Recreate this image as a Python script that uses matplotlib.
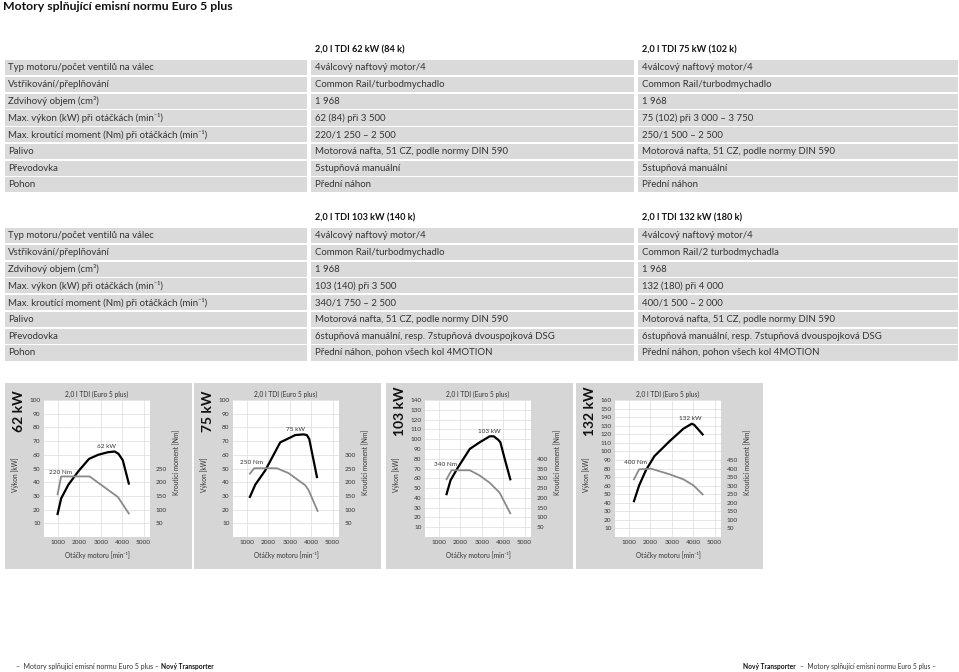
import matplotlib
matplotlib.use("Agg")
import matplotlib.pyplot as plt
from matplotlib.patches import Rectangle

plt.rcParams["font.family"] = ["Lato", "DejaVu Sans"]

W, H = 959, 672

# ---------------- table data ----------------
row_labels = [
    "Typ motoru/počet ventilů na válec",
    "Vstřikování/přeplňování",
    "Zdvihový objem (cm³)",
    "Max. výkon (kW) při otáčkách (min⁻¹)",
    "Max. kroutící moment (Nm) při otáčkách (min⁻¹)",
    "Palivo",
    "Převodovka",
    "Pohon",
]

table1_heads = ["2,0 l TDI 62 kW (84 k)", "2,0 l TDI 75 kW (102 k)"]
table1_col1 = ["4válcový naftový motor/4", "Common Rail/turbodmychadlo", "1 968",
               "62 (84) při 3 500", "220/1 250 – 2 500",
               "Motorová nafta, 51 CZ, podle normy DIN 590", "5stupňová manuální",
               "Přední náhon"]
table1_col2 = ["4válcový naftový motor/4", "Common Rail/turbodmychadlo", "1 968",
               "75 (102) při 3 000 – 3 750", "250/1 500 – 2 500",
               "Motorová nafta, 51 CZ, podle normy DIN 590", "5stupňová manuální",
               "Přední náhon"]

table2_heads = ["2,0 l TDI 103 kW (140 k)", "2,0 l TDI 132 kW (180 k)"]
table2_col1 = ["4válcový naftový motor/4", "Common Rail/turbodmychadlo", "1 968",
               "103 (140) při 3 500", "340/1 750 – 2 500",
               "Motorová nafta, 51 CZ, podle normy DIN 590",
               "6stupňová manuální, resp. 7stupňová dvouspojková DSG",
               "Přední náhon, pohon všech kol 4MOTION"]
table2_col2 = ["4válcový naftový motor/4", "Common Rail/2 turbodmychadla", "1 968",
               "132 (180) při 4 000", "400/1 500 – 2 000",
               "Motorová nafta, 51 CZ, podle normy DIN 590",
               "6stupňová manuální, resp. 7stupňová dvouspojková DSG",
               "Přední náhon, pohon všech kol 4MOTION"]

# ---------------- chart data ----------------
engine_names = ["62 kW", "75 kW", "103 kW", "132 kW"]
kw_max = [100, 100, 140, 160]
nm_ticks = [[50, 100, 150, 200, 250],
            [50, 100, 150, 200, 250, 300],
            [50, 100, 150, 200, 250, 300, 350, 400],
            [50, 100, 150, 200, 250, 300, 350, 400, 450]]

power_rpm = [
    [985, 1150, 1490, 1950, 2450, 2880, 3340, 3650, 3830, 4030, 4310],
    [1140, 1390, 1856, 2556, 2945, 3257, 3646, 3800, 3910, 4270],
    [1357, 1543, 1900, 2442, 2907, 3372, 3560, 3760, 3870, 4070, 4333],
    [1238, 1476, 1794, 2190, 2905, 3540, 3937, 4048, 4444],
]
power_kw = [
    [16.8, 28.1, 38.2, 47.9, 57.0, 60.0, 61.9, 62.4, 60.7, 56.0, 39.0],
    [29.3, 38.2, 48.6, 69.1, 72.0, 74.4, 74.9, 74.4, 71.5, 43.8],
    [43.8, 58.0, 71.5, 90.0, 96.8, 102.9, 102.9, 99.5, 96.8, 80.0, 59.0],
    [41.9, 60.2, 78.0, 94.4, 112.0, 126.4, 132.3, 131.0, 119.8],
]
torque_rpm = [
    [985, 1150, 2480, 3800, 4310],
    [1140, 1340, 2400, 2945, 3720, 3880, 4300],
    [1357, 1590, 2442, 2907, 3372, 3837, 4333],
    [1238, 1476, 2032, 2905, 3540, 4016, 4444],
]
torque_nm = [
    [156, 221, 221, 146, 86],
    [231, 251, 251, 233, 189, 171, 95],
    [295, 341, 341, 314, 277, 226, 121],
    [337, 395, 399, 366, 337, 301, 249],
]
power_label_pos = [(3290, 66), (3257, 78.8), (3341, 108), (3889, 138.6)]
torque_label = ["220 Nm", "250 Nm", "340 Nm", "400 Nm"]
torque_label_pos = [(1140, 235), (1233, 271), (1326, 369), (1317, 433)]
rpm_ticks = [1000, 2000, 3000, 4000, 5000]


def fx(x):
    return x / W


def fy(y):
    return 1 - y / H


fig = plt.figure(figsize=(W / 100, H / 100), dpi=100)
fig.patch.set_facecolor("white")

TXT = "#333333"
CELL = "#dadada"

fig.text(fx(3), fy(7), "Motory splňující emisní normu Euro 5 plus", fontsize=8.8,
         fontweight="bold", va="center", ha="left", color="#111111")


def draw_table(top, heads, col1, col2):
    row_h = 16.75
    cols = [(5, 307, 8), (311, 634, 315), (638, 958, 642)]
    fig.text(fx(cols[1][2]), fy(top - 10), heads[0], fontsize=6.6, fontweight="bold",
             va="center", ha="left", color="#111111")
    fig.text(fx(cols[2][2]), fy(top - 10), heads[1], fontsize=6.6, fontweight="bold",
             va="center", ha="left", color="#111111")
    for i, vals in enumerate(zip(row_labels, col1, col2)):
        y0 = top + i * row_h
        for (x0, x1, tx), val in zip(cols, vals):
            fig.patches.append(Rectangle((fx(x0), fy(y0 + row_h - 1.5)), (x1 - x0) / W,
                                         (row_h - 1.5) / H, transform=fig.transFigure,
                                         facecolor=CELL, edgecolor="none", zorder=-2))
            fig.text(fx(tx), fy(y0 + (row_h - 1.5) / 2), val, fontsize=6.9,
                     va="center", ha="left", color=TXT)


draw_table(60, table1_heads, table1_col1, table1_col2)
draw_table(228, table2_heads, table2_col1, table2_col2)

# ---------------- charts ----------------
panel_x = [5, 194, 386, 576]
panel_top, panel_bot = 383, 569
panel_w = 187
plot_top, plot_bot = 400, 537

for i in range(4):
    px = panel_x[i]
    fig.patches.append(Rectangle((fx(px), fy(panel_bot)), panel_w / W,
                                 (panel_bot - panel_top) / H, transform=fig.transFigure,
                                 facecolor="#d6d6d6", edgecolor="none", zorder=-2))
    left = px + 39
    ax = fig.add_axes([fx(left), fy(plot_bot), 106 / W, (plot_bot - plot_top) / H])
    ax.set_facecolor("white")
    ax.set_xlim(350, 5300)
    ax.set_ylim(0, kw_max[i])
    ax.set_xticks(rpm_ticks)
    ax.set_yticks(range(10, kw_max[i] + 1, 10))
    ax.grid(True, color="#dcdcdc", lw=0.5)
    ax.set_axisbelow(True)
    for s in ax.spines.values():
        s.set_visible(False)
    ax.tick_params(length=0, labelsize=4.6, colors=TXT, pad=2.5)
    ax.set_xlabel("Otáčky motoru [min⁻¹]", fontsize=4.8, color=TXT, labelpad=4.5)
    ax.set_title("2,0 l TDI (Euro 5 plus)", fontsize=4.8, color=TXT, pad=2.5)

    ax.plot(power_rpm[i], power_kw[i], color="black", lw=1.6, zorder=3)
    ax.text(*power_label_pos[i], engine_names[i], fontsize=4.6, color=TXT,
            ha="center", va="center")

    ax2 = ax.twinx()
    ax2.set_ylim(0, kw_max[i] * 5)
    ax2.set_yticks(nm_ticks[i])
    for s in ax2.spines.values():
        s.set_visible(False)
    ax2.tick_params(length=0, labelsize=4.6, colors=TXT, pad=4)
    ax2.plot(torque_rpm[i], torque_nm[i], color="#8a8a8a", lw=1.3, zorder=2)
    ax2.text(*torque_label_pos[i], torque_label[i], fontsize=4.6, color=TXT,
             ha="center", va="center")

    fig.text(fx(px + 14), fy(411), engine_names[i], fontsize=10, fontweight="bold",
             rotation=90, ha="center", va="center", color="#111111")
    fig.text(fx(px + 10), fy(475), "Výkon [kW]", fontsize=4.8, rotation=90,
             ha="center", va="center", color=TXT)
    fig.text(fx(px + 172), fy(462), "Kroutící moment [Nm]", fontsize=4.8, rotation=90,
             ha="center", va="center", color=TXT)

# ---------------- footer ----------------
fig.text(fx(16), fy(667), "–  Motory splňující emisní normu Euro 5 plus – ", fontsize=5.0,
         ha="left", va="center", color=TXT)
fig.text(fx(161), fy(667), "Nový Transporter", fontsize=4.8, fontweight="bold",
         ha="left", va="center", color="#111111")
fig.text(fx(743), fy(667), "Nový Transporter", fontsize=4.8, fontweight="bold",
         ha="left", va="center", color="#111111")
fig.text(fx(800), fy(667), "–  Motory splňující emisní normu Euro 5 plus –", fontsize=4.75,
         ha="left", va="center", color=TXT)

fig.savefig("out.png", dpi=100)
